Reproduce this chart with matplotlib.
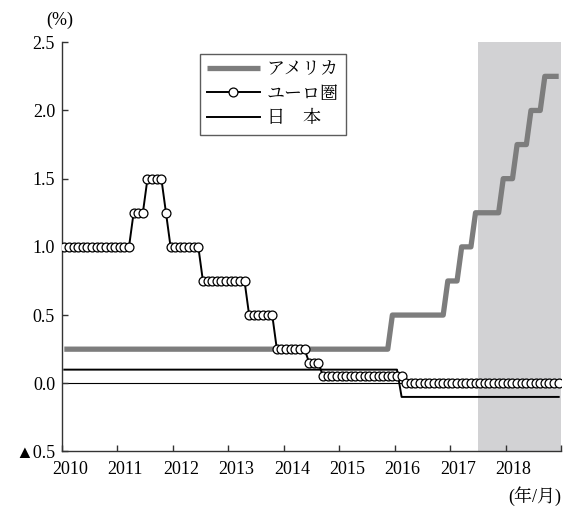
import matplotlib
matplotlib.use("Agg")
import matplotlib.pyplot as plt
import matplotlib.transforms as mtransforms
from matplotlib import font_manager
import numpy as np

installed = {f.name for f in font_manager.fontManager.ttflist}
jp_font = next((f for f in ["Noto Serif CJK JP", "Noto Serif JP", "Shippori Mincho",
                            "Zen Old Mincho", "Noto Sans CJK JP"] if f in installed),
               "Noto Sans CJK JP")
families = ["Liberation Serif", jp_font, "DejaVu Sans"]
plt.rcParams["font.family"] = families

# policy rates, monthly from 2010/01 to 2018/12, stored as (level, months held)
us_levels = [0.25, 0.5, 0.75, 1.0, 1.25, 1.5, 1.75, 2.0, 2.25]
us_months = [71, 12, 3, 3, 6, 3, 3, 3, 4]

euro_levels = [1.0, 1.25, 1.5, 1.25, 1.0, 0.75, 0.5, 0.25, 0.15, 0.05, 0.0]
euro_months = [15, 3, 4, 1, 7, 10, 6, 7, 3, 18, 34]

japan_levels = [0.1, -0.1]
japan_months = [73, 35]

years = list(range(2010, 2019))
year_labels = [str(y) for y in years]
y_ticks = [-0.5, 0.0, 0.5, 1.0, 1.5, 2.0, 2.5]
y_tick_labels = ["▲0.5", "0.0", "0.5", "1.0", "1.5", "2.0", "2.5"]
shade_start, shade_end = 2017.5, 2019.0

series_names = ["アメリカ", "ユーロ圏", "日　本"]

us = np.repeat(us_levels, us_months)
euro = np.repeat(euro_levels, euro_months)
japan = np.repeat(japan_levels, japan_months)
n = len(us)
x = 2010 + (np.arange(n) + 0.5) / 12.0

fig = plt.figure(figsize=(5.71, 5.09), dpi=100)
ax = fig.add_axes([0.1086, 0.113, 0.8739, 0.804])

ax.axvspan(shade_start, shade_end, color="#d2d2d4", lw=0, zorder=0)
ax.axhline(0, color="black", lw=0.8, zorder=1)

ax.plot(x, us, color="#7d7d7d", lw=3.8, solid_capstyle="butt", zorder=2, label=series_names[0])
ax.plot(x, japan, color="black", lw=1.4, zorder=3, label=series_names[2])
ax.plot(x, euro, color="black", lw=1.4, marker="o", markersize=6.4,
        markerfacecolor="white", markeredgecolor="black", markeredgewidth=0.9,
        zorder=4, label=series_names[1])

ax.set_xlim(2010, 2019)
ax.set_ylim(-0.5, 2.5)
ax.set_xticks(years + [2019])
ax.set_xticklabels(year_labels + [""])
ax.set_yticks(y_ticks)
ax.set_yticklabels(y_tick_labels)

for s in ["top", "right"]:
    ax.spines[s].set_visible(False)
for s in ["left", "bottom"]:
    ax.spines[s].set_color("#333333")
    ax.spines[s].set_linewidth(1.0)

ax.tick_params(direction="in", length=4, width=1.0, color="#333333",
               labelsize=13, colors="black")
ax.tick_params(axis="x", pad=7)
ax.tick_params(axis="y", pad=5)

# shift year labels a little right of their ticks
offset = mtransforms.ScaledTranslation(8 / 100, 0, fig.dpi_scale_trans)
for lbl in ax.get_xticklabels():
    lbl.set_transform(lbl.get_transform() + offset)
    lbl.set_fontfamily(families)
for lbl in ax.get_yticklabels():
    lbl.set_fontfamily(families)

fig.text(60 / 571, 1 - 20 / 509, "(%)", ha="center", va="center", fontsize=13,
         family=families)
fig.text(561 / 571, 1 - 496 / 509, "(年/月)", ha="right", va="center", fontsize=13,
         family=families)

handles, labels = ax.get_legend_handles_labels()
order = [0, 2, 1]
leg = ax.legend([handles[i] for i in order], [labels[i] for i in order],
                loc="upper left", bbox_to_anchor=(200 / 571, 1 - 54 / 509),
                bbox_transform=fig.transFigure, borderaxespad=0,
                frameon=True, fancybox=False, handlelength=2.9,
                prop=font_manager.FontProperties(family=families, size=13),
                handletextpad=0.4, labelspacing=0.42, borderpad=0.4)
leg.get_frame().set_edgecolor("#333333")
leg.get_frame().set_linewidth(1.0)

fig.savefig("out.png", dpi=100)
